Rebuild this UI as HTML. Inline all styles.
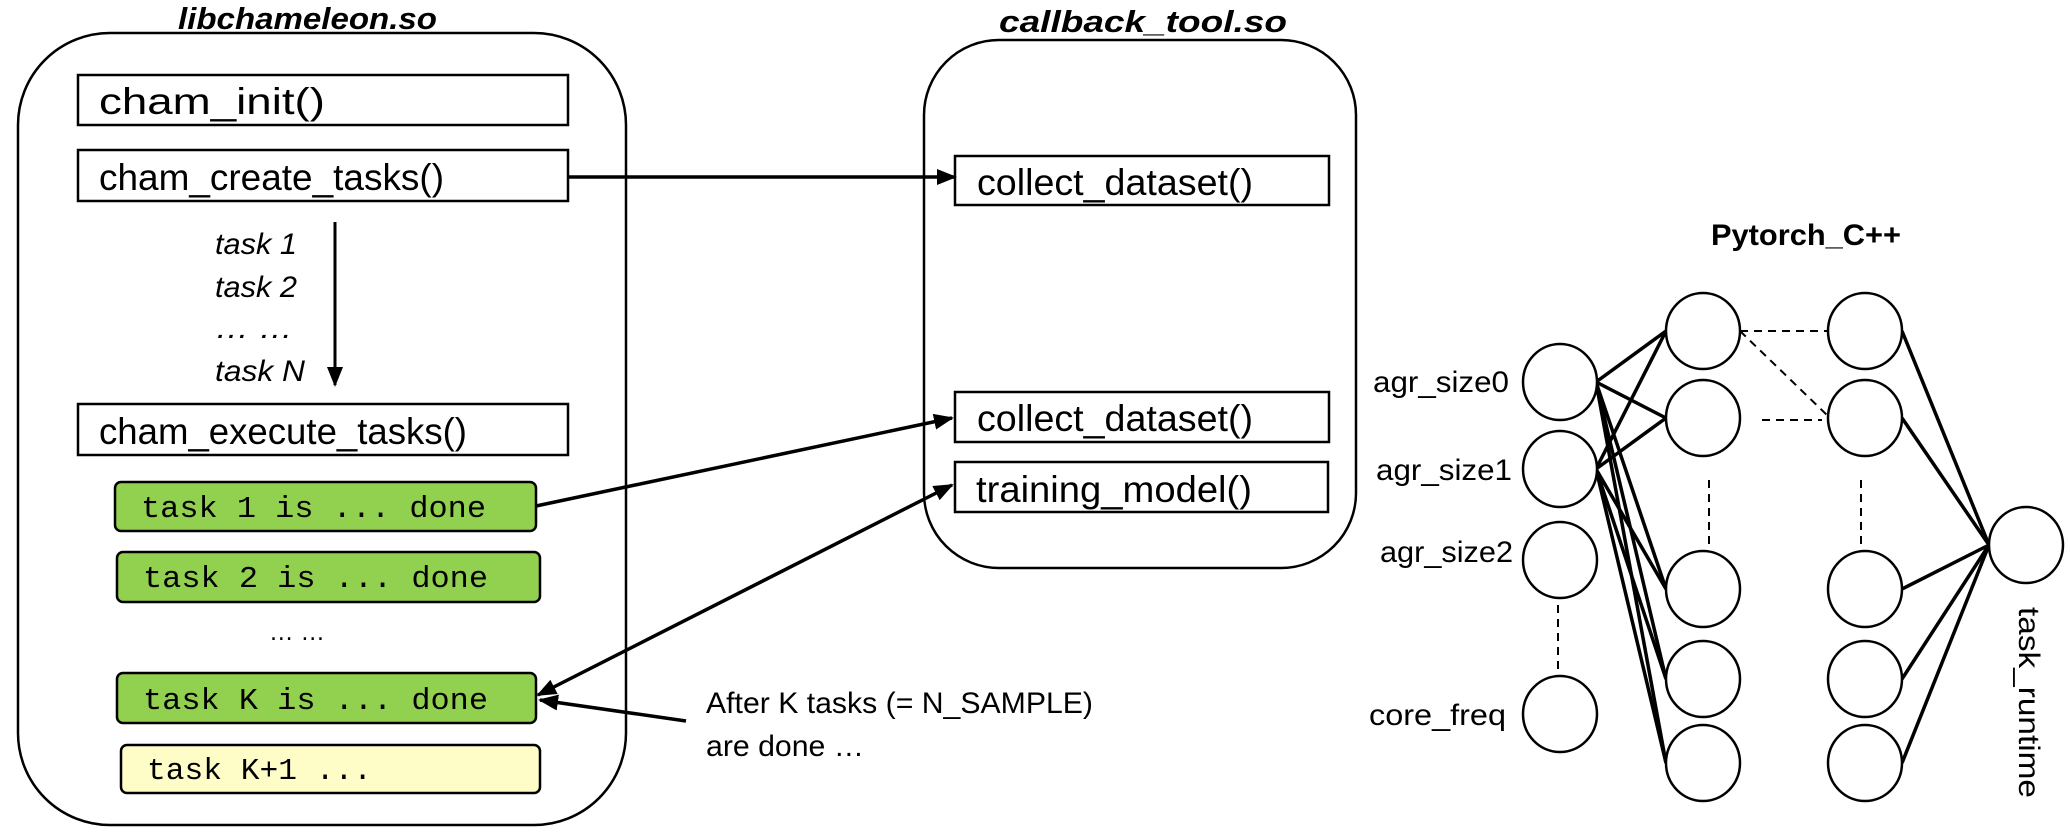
<!DOCTYPE html>
<html><head><meta charset="utf-8"><style>
html,body{margin:0;padding:0;background:#fff}
svg{display:block}
text{font-family:"Liberation Sans",sans-serif;fill:#000}
.m{font-family:"Liberation Mono",monospace}
</style></head><body>
<svg width="2070" height="838" viewBox="0 0 2070 838" xmlns="http://www.w3.org/2000/svg">
<defs>
<marker id="ah2" markerWidth="20" markerHeight="20" refX="18" refY="10" orient="auto-start-reverse" markerUnits="userSpaceOnUse" viewBox="0 0 20 20">
<path d="M0,2 L20,10 L0,18 z" fill="#000"/></marker>
</defs>
<!-- titles -->
<text x="178" y="29" font-size="31" font-weight="bold" font-style="italic" textLength="259" lengthAdjust="spacingAndGlyphs">libchameleon.so</text>
<text x="999" y="32" font-size="31" font-weight="bold" font-style="italic" textLength="288" lengthAdjust="spacingAndGlyphs">callback_tool.so</text>
<!-- containers -->
<rect x="18" y="33" width="608" height="792" rx="92" fill="none" stroke="#000" stroke-width="2.5"/>
<rect x="924" y="40" width="432" height="528" rx="75" fill="none" stroke="#000" stroke-width="2.5"/>
<g fill="#fff" stroke="#000" stroke-width="2.5">
<rect x="78" y="75" width="490" height="50"/>
<rect x="78" y="150" width="490" height="51"/>
<rect x="78" y="404" width="490" height="51"/>
<rect x="955" y="156" width="374" height="49"/>
<rect x="955" y="392" width="374" height="50"/>
<rect x="955" y="462" width="373" height="50"/>
</g>
<g font-size="37">
<text x="99" y="114" textLength="226" lengthAdjust="spacingAndGlyphs">cham_init()</text>
<text x="99" y="190" textLength="345" lengthAdjust="spacingAndGlyphs">cham_create_tasks()</text>
<text x="99" y="444" textLength="368" lengthAdjust="spacingAndGlyphs">cham_execute_tasks()</text>
<text x="977" y="195" textLength="276" lengthAdjust="spacingAndGlyphs">collect_dataset()</text>
<text x="977" y="431" textLength="276" lengthAdjust="spacingAndGlyphs">collect_dataset()</text>
<text x="976" y="502" textLength="276" lengthAdjust="spacingAndGlyphs">training_model()</text>
</g>
<g font-size="30" font-style="italic">
<text x="215" y="254" textLength="82" lengthAdjust="spacingAndGlyphs">task 1</text>
<text x="215" y="297" textLength="82" lengthAdjust="spacingAndGlyphs">task 2</text>
<text x="215" y="338" textLength="78" lengthAdjust="spacingAndGlyphs">… …</text>
<text x="215" y="381" textLength="90" lengthAdjust="spacingAndGlyphs">task N</text>
</g>
<line x1="335" y1="222" x2="335" y2="385" stroke="#000" stroke-width="3" marker-end="url(#ah2)"/>
<g stroke="#000" stroke-width="2.5">
<rect x="115" y="482" width="421" height="49" rx="6" fill="#92d050"/>
<rect x="117" y="552" width="423" height="50" rx="6" fill="#92d050"/>
<rect x="117" y="673" width="419" height="50" rx="6" fill="#92d050"/>
<rect x="121" y="745" width="419" height="48" rx="6" fill="#fefdc8"/>
</g>
<g font-size="31">
<text class="m" x="141" y="517" textLength="345" lengthAdjust="spacingAndGlyphs">task 1 is ... done</text>
<text class="m" x="143" y="587" textLength="345" lengthAdjust="spacingAndGlyphs">task 2 is ... done</text>
<text class="m" x="143" y="709" textLength="345" lengthAdjust="spacingAndGlyphs">task K is ... done</text>
<text class="m" x="147" y="779" textLength="225" lengthAdjust="spacingAndGlyphs">task K+1 ...</text>
</g>
<text x="269" y="640" font-size="26" textLength="56" lengthAdjust="spacingAndGlyphs">… …</text>
<g stroke="#000" stroke-width="3.5" fill="none">
<line x1="568" y1="177" x2="955" y2="177" marker-end="url(#ah2)"/>
<line x1="536" y1="506" x2="952" y2="418" marker-end="url(#ah2)"/>
<line x1="538" y1="695" x2="952" y2="485" marker-start="url(#ah2)" marker-end="url(#ah2)"/>
<line x1="686" y1="721" x2="540" y2="700" marker-end="url(#ah2)"/>
</g>
<text x="706" y="713" font-size="30" textLength="387" lengthAdjust="spacingAndGlyphs">After K tasks (= N_SAMPLE)</text>
<text x="706" y="756" font-size="30" textLength="158" lengthAdjust="spacingAndGlyphs">are done …</text>
<text x="1711" y="245" font-size="30" font-weight="bold" textLength="190" lengthAdjust="spacingAndGlyphs">Pytorch_C++</text>
<g font-size="30">
<text x="1373" y="392" textLength="136" lengthAdjust="spacingAndGlyphs">agr_size0</text>
<text x="1376" y="480" textLength="136" lengthAdjust="spacingAndGlyphs">agr_size1</text>
<text x="1380" y="562" textLength="133" lengthAdjust="spacingAndGlyphs">agr_size2</text>
<text x="1369" y="725" textLength="137" lengthAdjust="spacingAndGlyphs">core_freq</text>
</g>
<text transform="translate(2019,607) rotate(90)" font-size="30" textLength="191" lengthAdjust="spacingAndGlyphs">task_runtime</text>
<g stroke="#000" stroke-width="3.5">
<line x1="1596" y1="382" x2="1666" y2="331"/><line x1="1596" y1="382" x2="1666" y2="418"/>
<line x1="1596" y1="382" x2="1666" y2="589"/><line x1="1596" y1="382" x2="1666" y2="679"/><line x1="1596" y1="382" x2="1666" y2="763"/>
<line x1="1596" y1="469" x2="1666" y2="331"/><line x1="1596" y1="469" x2="1666" y2="418"/>
<line x1="1596" y1="469" x2="1666" y2="589"/><line x1="1596" y1="469" x2="1666" y2="679"/><line x1="1596" y1="469" x2="1666" y2="763"/>
<line x1="1902" y1="331" x2="1989" y2="545"/><line x1="1902" y1="418" x2="1989" y2="545"/>
<line x1="1902" y1="589" x2="1989" y2="545"/><line x1="1902" y1="679" x2="1989" y2="545"/><line x1="1902" y1="763" x2="1989" y2="545"/>
</g>
<g stroke="#000" stroke-width="2" stroke-dasharray="8,6">
<line x1="1558" y1="605" x2="1558" y2="670"/>
<line x1="1709" y1="480" x2="1709" y2="546"/>
<line x1="1861" y1="480" x2="1861" y2="546"/>
<line x1="1740" y1="331" x2="1828" y2="331"/>
<line x1="1762" y1="420" x2="1822" y2="420"/>
<line x1="1740" y1="331" x2="1828" y2="416"/>
</g>
<g fill="#fff" stroke="#000" stroke-width="2.5">
<ellipse cx="1560" cy="382" rx="37" ry="38"/><ellipse cx="1560" cy="469" rx="37" ry="38"/>
<ellipse cx="1560" cy="560" rx="37" ry="38"/><ellipse cx="1560" cy="714" rx="37" ry="38"/>
<ellipse cx="1703" cy="331" rx="37" ry="38"/><ellipse cx="1703" cy="418" rx="37" ry="38"/>
<ellipse cx="1703" cy="589" rx="37" ry="38"/><ellipse cx="1703" cy="679" rx="37" ry="38"/><ellipse cx="1703" cy="763" rx="37" ry="38"/>
<ellipse cx="1865" cy="331" rx="37" ry="38"/><ellipse cx="1865" cy="418" rx="37" ry="38"/>
<ellipse cx="1865" cy="589" rx="37" ry="38"/><ellipse cx="1865" cy="679" rx="37" ry="38"/><ellipse cx="1865" cy="763" rx="37" ry="38"/>
<ellipse cx="2026" cy="545" rx="37" ry="38"/>
</g>
</svg>
</body></html>
